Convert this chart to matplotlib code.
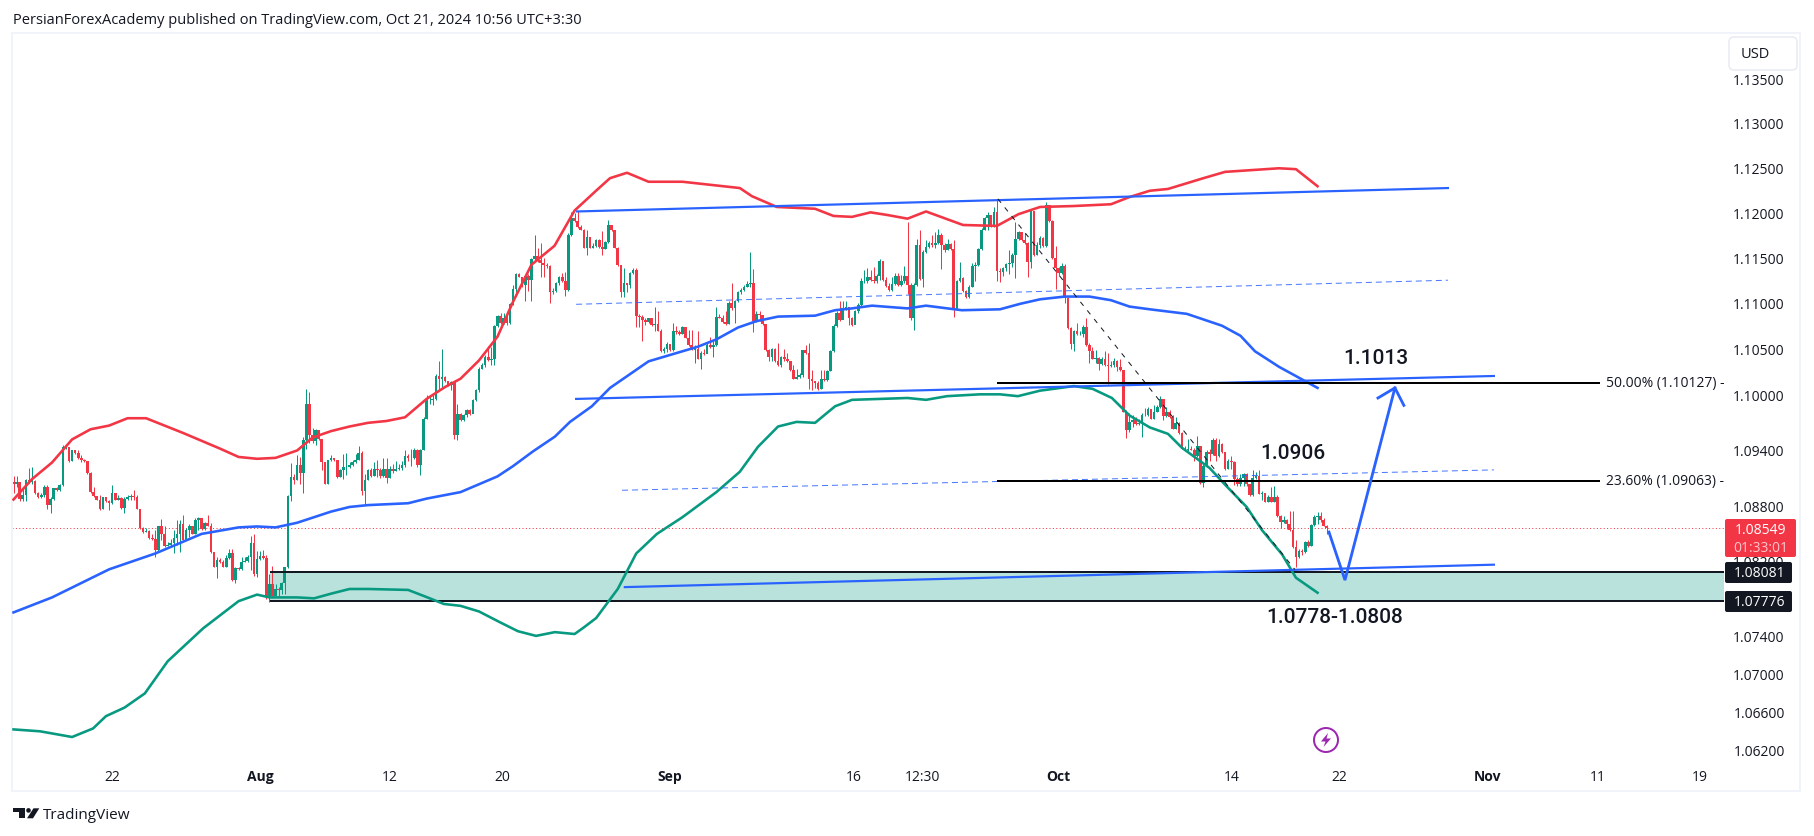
import numpy as np
import matplotlib
matplotlib.use("Agg")
import matplotlib.pyplot as plt
from matplotlib.patches import Rectangle, FancyBboxPatch, Polygon, Circle
from matplotlib.ticker import FixedLocator, NullLocator, FixedFormatter

UI_FONT = "Open Sans"
plt.rcParams["font.family"] = [UI_FONT, "DejaVu Sans"]

FIRST_OPEN = 10905
closes = [
10903,10905,10887,10891,10907,10905,10906,10893,10889,10891,
10899,10880,10887,10898,10896,10902,10943,10943,10928,10939,
10936,10931,10929,10928,10915,10894,10890,10885,10876,10889,
10884,10882,10893,10885,10888,10877,10887,10889,10890,10889,
10876,10855,10851,10852,10845,10844,10832,10857,10849,10836,
10837,10839,10845,10849,10860,10843,10853,10858,10849,10864,
10866,10854,10861,10858,10830,10813,10821,10819,10814,10823,
10828,10800,10812,10811,10819,10820,10824,10839,10806,10822,
10825,10823,10781,10795,10783,10790,10789,10796,10813,10890,
10910,10907,10923,10915,10950,10990,10956,10949,10961,10951,
10927,10903,10929,10931,10929,10910,10918,10921,10921,10923,
10927,10929,10936,10895,10907,10918,10911,10919,10918,10911,
10919,10909,10919,10917,10919,10920,10923,10933,10931,10931,
10939,10923,10939,10973,10994,10994,10995,11020,11017,11019,
11014,11010,11013,10956,10979,10972,10977,10983,10979,10994,
11005,11028,11032,11041,11038,11039,11075,11086,11078,11083,
11078,11099,11115,11132,11129,11120,11130,11125,11148,11152,
11147,11144,11142,11141,11112,11113,11122,11129,11124,11114,
11175,11194,11190,11184,11181,11161,11173,11161,11163,11169,
11162,11159,11167,11186,11180,11161,11142,11112,11122,11120,
11133,11136,11086,11085,11081,11079,11083,11076,11077,11069,
11047,11050,11055,11048,11069,11068,11066,11074,11061,11054,
11048,11049,11039,11045,11044,11054,11052,11054,11085,11083,
11079,11077,11100,11094,11102,11112,11114,11118,11121,11122,
11080,11088,11087,11077,11048,11041,11050,11036,11032,11041,
11039,11036,11027,11017,11019,11021,11048,11045,11017,11015,
11012,11006,11017,11016,11025,11047,11075,11089,11081,11094,
11095,11083,11076,11091,11098,11124,11124,11129,11125,11124,
11130,11146,11125,11119,11114,11121,11130,11120,11124,11130,
11120,11083,11120,11164,11126,11156,11162,11166,11164,11166,
11175,11164,11158,11165,11159,11093,11124,11127,11113,11106,
11118,11141,11142,11159,11180,11194,11197,11185,11200,11135,
11134,11138,11143,11144,11153,11171,11178,11169,11166,11145,
11201,11153,11164,11172,11163,11208,11190,11149,11138,11133,
11141,11105,11072,11055,11069,11066,11066,11074,11054,11047,
11039,11040,11033,11039,11032,11031,11032,11036,11030,11027,
10981,10961,10970,10972,10968,10969,10978,10977,10984,10973,
10981,10986,10995,10976,10981,10975,10962,10969,10958,10941,
10939,10941,10940,10933,10944,10904,10922,10937,10935,10950,
10933,10946,10937,10919,10928,10926,10908,10903,10909,10914,
10903,10891,10909,10911,10892,10893,10883,10889,10883,10889,
10868,10862,10864,10860,10853,10835,10824,10831,10830,10840,
10836,10859,10867,10868,10864,10858,10855]
highs = [
10911,10911,10893,10900,10908,10920,10921,10907,10894,10893,
10902,10902,10889,10898,10899,10903,10945,10945,10943,10940,
10940,10939,10934,10930,10928,10916,10900,10890,10891,10889,
10888,10885,10902,10893,10891,10889,10889,10891,10892,10896,
10891,10876,10856,10855,10853,10849,10853,10858,10865,10857,
10840,10844,10853,10864,10864,10869,10855,10860,10858,10866,
10867,10864,10862,10869,10861,10830,10824,10823,10821,10826,
10833,10833,10813,10813,10824,10824,10826,10847,10849,10831,
10831,10832,10826,10806,10815,10795,10792,10797,10813,10891,
10925,10914,10934,10932,10954,11006,11002,10963,10962,10961,
10951,10927,10929,10934,10931,10929,10919,10935,10936,10927,
10929,10935,10944,10938,10914,10919,10920,10927,10929,10920,
10931,10931,10922,10924,10928,10924,10928,10939,10935,10941,
10942,10941,10941,10975,10999,10999,10999,11022,11036,11049,
11020,11015,11014,11014,10990,10980,10979,10984,10984,10995,
11006,11030,11034,11043,11053,11052,11076,11087,11089,11089,
11088,11100,11120,11133,11133,11129,11131,11132,11149,11175,
11160,11166,11149,11144,11142,11116,11123,11130,11133,11134,
11177,11200,11199,11202,11186,11182,11180,11173,11166,11171,
11170,11179,11168,11192,11186,11181,11162,11142,11139,11122,
11134,11139,11138,11088,11087,11083,11084,11083,11096,11091,
11071,11052,11057,11055,11078,11075,11070,11075,11074,11070,
11070,11054,11069,11047,11050,11056,11063,11058,11096,11088,
11087,11091,11102,11122,11103,11113,11116,11120,11124,11156,
11137,11091,11091,11087,11077,11049,11051,11051,11056,11042,
11050,11045,11036,11032,11028,11023,11048,11054,11056,11027,
11015,11015,11027,11027,11027,11048,11077,11091,11102,11102,
11102,11096,11085,11092,11100,11127,11136,11139,11136,11140,
11132,11148,11146,11128,11122,11129,11133,11133,11131,11141,
11189,11122,11122,11170,11180,11158,11169,11168,11175,11178,
11182,11177,11166,11171,11166,11169,11125,11145,11129,11114,
11120,11144,11145,11160,11183,11195,11200,11197,11206,11215,
11138,11140,11144,11158,11155,11189,11179,11178,11177,11167,
11203,11202,11167,11174,11173,11211,11208,11192,11163,11140,
11144,11143,11105,11074,11070,11078,11069,11076,11083,11056,
11052,11048,11041,11041,11047,11045,11036,11040,11037,11039,
11027,10983,10980,10977,10975,10973,10980,10985,10986,10984,
10988,10988,10998,10995,10986,10983,10977,10975,10970,10959,
10944,10951,10944,10942,10955,10944,10924,10939,10941,10953,
10953,10951,10947,10933,10930,10933,10928,10910,10914,10915,
10915,10903,10918,10916,10918,10895,10893,10891,10900,10901,
10891,10869,10868,10865,10874,10874,10842,10833,10833,10841,
10842,10860,10869,10873,10873,10866,10859]
lows = [
10893,10900,10884,10884,10884,10904,10903,10892,10888,10888,
10889,10876,10871,10886,10895,10895,10901,10941,10927,10928,
10935,10930,10927,10927,10914,10893,10889,10885,10875,10876,
10883,10875,10881,10885,10885,10876,10872,10885,10886,10885,
10876,10854,10850,10851,10844,10842,10824,10831,10842,10835,
10836,10835,10828,10837,10830,10842,10843,10846,10849,10849,
10853,10853,10853,10857,10829,10813,10802,10818,10813,10813,
10822,10799,10796,10810,10810,10819,10819,10810,10804,10803,
10821,10822,10779,10776,10781,10783,10782,10785,10785,10812,
10884,10903,10907,10903,10893,10941,10947,10947,10945,10950,
10918,10903,10903,10928,10928,10909,10910,10908,10912,10920,
10922,10925,10929,10891,10881,10907,10910,10911,10910,10909,
10910,10904,10909,10915,10917,10918,10918,10921,10928,10922,
10930,10921,10913,10939,10973,10990,10988,10994,11005,11006,
11013,11009,11005,10951,10950,10971,10971,10975,10978,10980,
10993,11003,11028,11030,11036,11032,11032,11074,11077,11077,
11076,11077,11098,11108,11128,11118,11102,11113,11102,11147,
11145,11129,11129,11139,11100,11110,11112,11120,11123,11108,
11113,11174,11189,11183,11180,11160,11153,11160,11161,11162,
11161,11153,11159,11166,11179,11160,11141,11107,11107,11112,
11116,11132,11074,11074,11058,11076,11078,11075,11069,11069,
11046,11045,11046,11047,11047,11066,11065,11066,11061,11053,
11048,11034,11039,11028,11043,11048,11051,11041,11053,11083,
11078,11076,11077,11092,11078,11101,11110,11113,11117,11117,
11068,11079,11080,11076,11047,11036,11036,11035,11031,11030,
11036,11035,11025,11017,11017,11018,11019,11044,11006,11005,
11007,11005,11006,11015,11015,11025,11046,11074,11080,11083,
11092,11076,11075,11079,11089,11097,11122,11122,11124,11122,
11122,11125,11124,11118,11113,11113,11120,11119,11119,11122,
11110,11081,11070,11119,11125,11118,11155,11160,11162,11160,
11165,11137,11156,11158,11158,11085,11093,11123,11112,11105,
11105,11117,11124,11141,11158,11180,11180,11184,11184,11124,
11123,11130,11135,11132,11140,11127,11169,11168,11165,11128,
11138,11152,11153,11160,11162,11162,11189,11148,11115,11130,
11132,11100,11071,11050,11047,11065,11065,11063,11053,11034,
11039,11034,11027,11032,11031,11011,11030,11030,11025,11025,
10981,10952,10959,10964,10967,10967,10954,10976,10976,10973,
10973,10981,10985,10972,10975,10974,10962,10962,10957,10941,
10938,10938,10939,10928,10932,10903,10900,10921,10928,10934,
10928,10932,10936,10918,10919,10919,10902,10901,10901,10901,
10901,10890,10890,10908,10892,10885,10883,10883,10883,10883,
10867,10855,10861,10854,10852,10834,10813,10823,10826,10828,
10835,10836,10858,10860,10862,10857,10849]

upper_i = [0,6,12.5,19,25,31,37,43,55,67,73,79,85,92,97,103,109,115,121,127,134,140,145,151,157,162,168,175.5,182,189.6,193.5,199,206,217,235.6,239.5,247.6,260,266,272,278,283.6,290,296,308,319,326,333,343.7,356,362,368.6,374.5,386,393,410.5,416,423]
upper_p = [10886,10908,10926,10951,10962,10966,10974,10974,10958,10941,10932,10930,10931,10939,10953,10960,10965,10969,10971,10975,10995,11008,11017,11037,11063,11101,11142,11163,11202,11226,11238,11244,11234,11234,11227,11218,11206,11204,11196,11195,11200,11197,11193,11201,11186,11185,11198,11206,11207,11209,11217,11224,11226,11238,11245,11249,11248,11229]
mid_i = [0,12.5,31,46,61,73,79,85,92,103,109,115,128,134,145,157,162,168.5,175.6,180.5,187.6,193.5,206,222,228,235,241,248,260,266.5,272,278.5,290,296,307.6,320,326.5,333,341,349,356,362,368.6,380.6,392,398,402.7,410.5,423]
mid_p = [10765,10781,10811,10828,10849,10856,10857,10856,10861,10873,10878,10880,10882,10887,10894,10911,10922,10938,10954,10970,10987,11007,11036,11052,11060,11073,11080,11085,11086,11092,11094,11097,11094,11097,11092,11093,11099,11104,11107,11107,11103,11096,11093,11088,11075,11064,11047,11030,11007]
lower_i = [0,8.6,19,25.8,30,36,42.6,50,61.5,73,79,83,92,97.5,103,109,115,128,133.5,139.6,145,151,157.5,163.6,169.5,175.6,182,185,189,196,202,208.7,217,228,235.6,241.5,248,254,260,266.5,272,290,296,302.8,313.5,320,325.8,333,344,350,356.3,362,368.6,374.5,379,388,393,400,405,411.5,416,423]
lower_p = [10641,10639,10633,10642,10655,10664,10679,10713,10748,10777,10784,10781,10781,10780,10785,10790,10790,10789,10782,10774,10772,10766,10755,10745,10740,10744,10742,10749,10759,10790,10828,10849,10867,10894,10916,10943,10965,10970,10969,10987,10994,10996,10994,10998,11000,11000,10998,11004,11009,11006,10996,10977,10964,10957,10942,10920,10902,10878,10853,10827,10802,10786]

channel_lines = [([182.8,465.3],[11201,11227]),([182.5,480.2],[10995,11020]),([198.3,480.2],[10792,10816])]
dashed_lines = [([182.5,465.3],[11098.5,11125]),([197.4,480.2],[10896,10918])]
fib_trend_i = [319.3,415.6]
fib_trend_p = [11215,10811]
fib_span = [319,514.6]
fib_levels = [1.10127,1.09063]
fib_labels = ["50.00% (1.10127) -","23.60% (1.09063) -"]
zone_span = [83.2,554.8]
zone_prices = [1.07776,1.08081]
arrow_i = [426.7,431.9,448.1]
arrow_p = [10851,10799.5,11007]
head_i = [442.6,448.1,451]
head_p = [10996,11007,10988]
last_price = 1.08549

price_ticks = [1.135,1.13,1.125,1.12,1.115,1.11,1.105,1.10,1.094,1.088,1.082,1.074,1.07,1.066,1.062]
date_ticks = [32,80,122,158.5,213,272.5,295,339,395,430,478,514,547]
date_labels = ["22","Aug","12","20","Sep","16","12:30","Oct","14","22","Nov","11","19"]
bold_dates = {"Aug","Sep","Oct","Nov"}
call_texts = [("1.1013",442.0,11040),("1.0906",415.0,10937),("1.0778-1.0808",428.6,10761)]

W,H = 1814,837
TEXT="#131722"; RED="#f23645"; GREEN="#089981"; BLUE="#2962ff"; FRAME="#f0f3fa"
px = 0.72
UI = 10
fig = plt.figure(figsize=(W/100,H/100),dpi=100,facecolor="white")
L,R,T,B = 12,1800,34,792
ax = fig.add_axes([L/W,1-B/H,(R-L)/W,(B-T)/H])
ax.set_yscale("log")
ax.set_xlim(-0.49,579.5)
ax.set_ylim(1.05763,1.14007)

c = np.array(closes)/1e4
o = np.r_[FIRST_OPEN/1e4,c[:-1]]
h = np.array(highs)/1e4
l = np.array(lows)/1e4
x = np.arange(len(c))
up = c>=o
cols = np.where(up,GREEN,RED)

zl,zh = zone_prices
ax.add_patch(Rectangle((zone_span[0],zl),zone_span[1]-zone_span[0],zh-zl,facecolor="#b8e2db",edgecolor="none",zorder=1))
ax.hlines(zone_prices,*zone_span,color=TEXT,lw=2*px,zorder=2.2)
ax.hlines(last_price,x[0]-0.5,zone_span[1],color=RED,lw=1*px,linestyles=(0,(1,2.4)),zorder=1.5)
ax.vlines(x,l,h,color=cols,lw=1*px,zorder=2)
ax.bar(x,np.abs(c-o),bottom=np.minimum(c,o),width=0.85,color=cols,linewidth=0,zorder=2.1)

for xs,ps,col in [(upper_i,upper_p,RED),(mid_i,mid_p,BLUE),(lower_i,lower_p,GREEN)]:
    ax.plot(xs,np.array(ps)/1e4,color=col,lw=2.6*px,zorder=3,solid_joinstyle="round")
for xs,ps in channel_lines:
    ax.plot(xs,np.array(ps)/1e4,color=BLUE,lw=2.2*px,zorder=3.1)
for xs,ps in dashed_lines:
    ax.plot(xs,np.array(ps)/1e4,color=BLUE,lw=1*px,ls=(0,(6,4)),alpha=.85,zorder=3.1)
ax.plot(fib_trend_i,np.array(fib_trend_p)/1e4,color="#131722",lw=1*px,ls=(0,(5,6)),zorder=3.2)
ax.hlines(fib_levels,*fib_span,color="black",lw=2*px,zorder=3.3)
for p,t in zip(fib_levels,fib_labels):
    ax.text(516.5,p,t,fontsize=UI,color=TEXT,va="center",ha="left")
ax.plot(arrow_i,np.array(arrow_p)/1e4,color=BLUE,lw=2.8*px,zorder=3.4,solid_joinstyle="miter")
ax.plot(head_i,np.array(head_p)/1e4,color=BLUE,lw=2.8*px,zorder=3.4)
for t,xi,p in call_texts:
    ax.text(xi,p/1e4,t,fontsize=15,family=["Roboto","DejaVu Sans"],fontweight="medium",color=TEXT,ha="center",va="center",zorder=4)

ax.yaxis.set_major_locator(FixedLocator(price_ticks))
ax.yaxis.set_major_formatter(FixedFormatter([f"{p:.5f}" for p in price_ticks]))
ax.yaxis.set_minor_locator(NullLocator())
ax.yaxis.tick_right()
ax.tick_params(axis="y",length=0,pad=-11,labelsize=UI,labelcolor=TEXT)
for lb in ax.get_yticklabels():
    lb.set_ha("right")
ax.set_xticks(date_ticks)
ax.set_xticklabels(date_labels)
ax.tick_params(axis="x",length=0,pad=-16,labelsize=UI,labelcolor=TEXT)
for lb in ax.get_xticklabels():
    if lb.get_text() in bold_dates:
        lb.set_fontweight("bold")
for s in ax.spines.values():
    s.set_color(FRAME); s.set_linewidth(2*px)

ov = fig.add_axes([0,0,1,1],zorder=5)
ov.set_xlim(0,W); ov.set_ylim(H,0); ov.axis("off"); ov.patch.set_alpha(0)

def tag(x0,x1,y0,y1,col):
    ov.add_patch(FancyBboxPatch((x0+2,y0+2),x1-x0-4,y1-y0-4,boxstyle="round,pad=2,rounding_size=2",facecolor=col,edgecolor="none"))
tag(1725,1796,520,558,RED)
tag(1725,1792,563,584,TEXT)
tag(1725,1792,592,613,TEXT)
ov.text(1761,530,"1.08549",color="white",fontsize=UI,ha="center",va="center")
ov.text(1761,549,"01:33:01",color="#fdc4ca",fontsize=UI,ha="center",va="center")
ov.text(1760,573.5,"1.08081",color="white",fontsize=UI,ha="center",va="center")
ov.text(1760,602.5,"1.07776",color="white",fontsize=UI,ha="center",va="center")

ov.add_patch(Rectangle((1727,60),71,14,facecolor="white",edgecolor="none"))
ov.add_patch(FancyBboxPatch((1731,40),64,29,boxstyle="round,pad=2,rounding_size=5",facecolor="white",edgecolor="#e8eaf2",lw=1.5*px))
ov.text(1741,54,"USD",color=TEXT,fontsize=10.5,ha="left",va="center")

ov.add_patch(Circle((1326,741),12,facecolor="white",edgecolor="#9c27b0",lw=2*px))
ov.add_patch(Polygon([(1328,734),(1321,742.5),(1325.5,742.5),(1323.5,748),(1331,739.5),(1326.5,739.5)],closed=True,facecolor="#9c27b0",edgecolor="none"))

ov.text(13,20,"PersianForexAcademy published on TradingView.com, Oct 21, 2024 10:56 UTC+3:30",color=TEXT,fontsize=10.5,ha="left",va="center")

ov.add_patch(Polygon([(13.3,809.3),(25,809.3),(25,819.3),(19.3,819.3),(19.3,812.9),(13.3,812.9)],closed=True,facecolor=TEXT,edgecolor="none"))
ov.add_patch(Circle((28.5,811.4),2.3,facecolor=TEXT,edgecolor="none"))
ov.add_patch(Polygon([(33.5,809.3),(39.3,809.3),(33,819.3),(27,819.3)],closed=True,facecolor=TEXT,edgecolor="none"))
ov.text(43,816,"TradingView",color=TEXT,fontsize=11,ha="left",va="center")

fig.savefig("out.png",dpi=100,facecolor="white")
